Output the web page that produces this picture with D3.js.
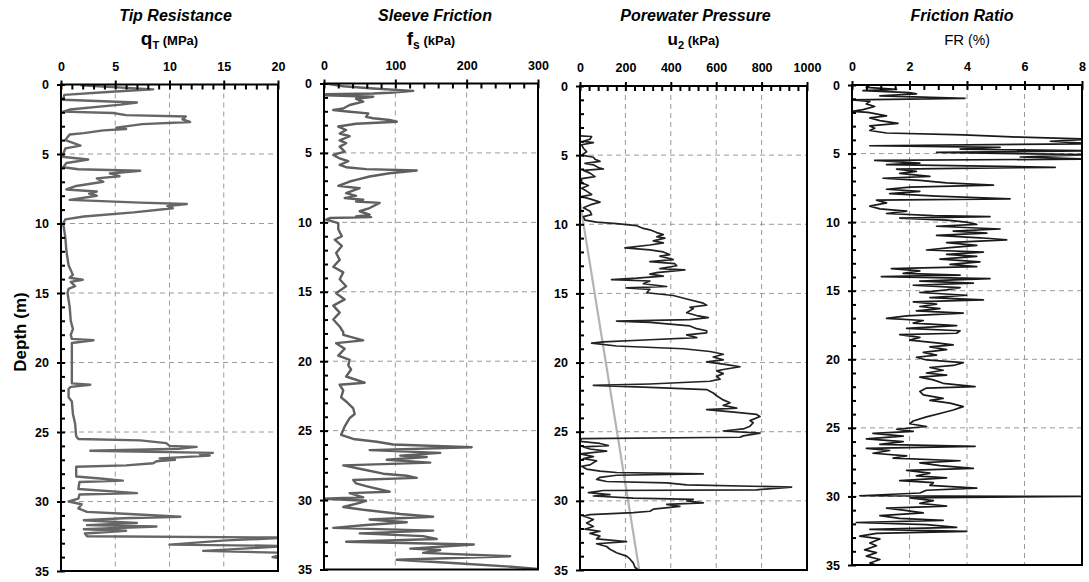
<!DOCTYPE html>
<html>
<head>
<meta charset="utf-8">
<script src="https://cdn.jsdelivr.net/npm/d3@7"></script>
<style>
    body { margin: 0; background: #fff; }
    svg text { font-family: "Liberation Sans", Arial, sans-serif; font-weight: bold; fill: #000; }
</style>
</head>
<body>
<div id="chart"></div>
<script>

// ---- data, every row is [depth (m), value] ----
const depthTicks = [0, 5, 10, 15, 20, 25, 30, 35];

const qtTicks = [0, 5, 10, 15, 20];
const qtData = [
    [0.05, 1.8], [0.35, 8.5], [0.5, 5.0], [0.75, 0.3], [1.1, 0.2], [1.3, 7.0], [1.45, 5.5], [1.8, 0.8], [1.95, 0.2],
    [2.05, 4.8], [2.2, 6.0], [2.3, 11.5], [2.5, 11.2], [2.7, 11.9], [2.85, 7.5], [3.1, 5.1], [3.2, 6.0], [3.3, 3.9],
    [3.5, 2.1], [3.6, 0.8], [4.0, 0.4], [4.4, 1.8], [4.6, 0.4], [5.0, 0.2], [5.2, 0.1], [5.4, 2.5], [5.65, 0.5],
    [5.95, 0.2], [6.1, 1.6], [6.2, 7.3], [6.4, 4.5], [6.6, 5.4], [6.75, 3.3], [7.0, 3.9], [7.3, 1.4], [7.55, 0.5],
    [7.7, 3.3], [7.85, 2.6], [8.0, 3.3], [8.3, 0.8], [8.5, 7.3], [8.6, 11.6], [8.75, 9.8], [8.9, 10.3], [9.2, 6.7],
    [9.5, 2.1], [9.7, 0.4], [10.0, 0.2], [11.0, 0.4], [12.0, 0.5], [13.0, 0.7], [13.7, 1.1], [13.9, 0.8], [14.05, 2.0],
    [14.2, 0.9], [14.5, 1.3], [14.7, 0.7], [15.0, 0.6], [16.0, 0.8], [17.0, 0.9], [17.6, 1.1], [18.0, 0.9], [18.3, 1.0],
    [18.4, 3.0], [18.6, 1.0], [20.0, 1.0], [21.5, 1.0], [21.6, 2.7], [21.75, 0.9], [21.9, 0.7], [22.5, 0.7], [22.8, 1.0],
    [23.7, 1.1], [24.4, 1.3], [25.3, 1.4], [25.5, 1.6], [25.6, 7.3], [25.8, 9.7], [26.0, 10.0], [26.07, 12.5], [26.2, 11.0],
    [26.35, 2.7], [26.5, 14.0], [26.6, 12.8], [26.7, 13.7], [26.9, 9.1], [27.0, 10.5], [27.1, 8.8], [27.25, 8.5],
    [27.4, 6.0], [27.5, 1.4], [28.2, 1.4], [28.35, 3.6], [28.5, 5.7], [28.6, 1.7], [29.1, 1.6], [29.4, 7.0], [29.5, 1.7],
    [29.8, 1.6], [30.0, 0.7], [30.2, 1.9], [30.5, 1.6], [30.75, 2.4], [30.9, 6.3], [31.1, 11.0], [31.2, 5.7], [31.35, 2.1],
    [31.55, 7.0], [31.7, 2.4], [31.8, 8.8], [32.0, 2.1], [32.1, 6.0], [32.3, 2.2], [32.5, 2.4], [32.6, 21], [32.8, 15.2],
    [33.1, 10.0], [33.2, 21], [33.55, 13.1], [33.7, 21], [34.0, 19.5], [34.2, 21], [35, 21]
];

const fsTicks = [0, 100, 200, 300];
const fsData = [
    [0.0, 3], [0.2, 27], [0.36, 69], [0.53, 125], [0.67, 92], [0.72, 69], [0.77, 3], [0.85, 3], [0.95, 69], [1.1, 45],
    [1.3, 55], [1.55, 36], [1.8, 27], [1.91, 13], [2.03, 36], [2.15, 62], [2.4, 59], [2.5, 69], [2.63, 92], [2.75, 102],
    [2.9, 45], [3.1, 20], [3.35, 31], [3.6, 22], [3.8, 36], [4.1, 22], [4.3, 31], [4.55, 22], [4.9, 29], [5.14, 13],
    [5.4, 22], [5.6, 34], [5.86, 22], [6.03, 31], [6.17, 59], [6.27, 130], [6.46, 92], [6.7, 64], [6.94, 45], [7.06, 36],
    [7.37, 20], [7.54, 50], [7.9, 31], [8.09, 45], [8.25, 29], [8.37, 55], [8.5, 45], [8.6, 78], [8.97, 64], [9.2, 50],
    [9.45, 64], [9.57, 45], [9.62, 66], [9.69, 8], [9.8, 3], [10.05, 20], [10.5, 20], [11.0, 25], [11.25, 15], [11.7, 25],
    [12.2, 17], [12.7, 22], [13.2, 13], [13.6, 27], [14.1, 22], [14.6, 31], [15.1, 17], [15.55, 29], [16.0, 13],
    [16.5, 22], [17.0, 13], [17.5, 22], [17.9, 27], [18.1, 27], [18.5, 55], [18.7, 17], [19.1, 29], [19.6, 20],
    [19.9, 36], [20.3, 34], [20.6, 38], [21.1, 31], [21.55, 57], [21.7, 22], [22.1, 27], [22.6, 24], [22.9, 31],
    [23.4, 41], [23.8, 43], [24.1, 36], [24.7, 29], [25.3, 24], [25.6, 41], [25.8, 74], [26.0, 97], [26.2, 207],
    [26.4, 64], [26.6, 163], [26.8, 107], [26.9, 144], [27.1, 88], [27.3, 149], [27.5, 27], [27.8, 55], [28.1, 83],
    [28.25, 116], [28.4, 130], [28.55, 41], [28.8, 45], [29.0, 59], [29.4, 92], [29.5, 36], [29.8, 55], [29.9, 0],
    [30.05, 59], [30.2, 50], [30.5, 27], [30.7, 55], [31.0, 107], [31.2, 153], [31.4, 64], [31.6, 116], [31.8, 59],
    [32.0, 13], [32.2, 153], [32.4, 50], [32.6, 139], [32.8, 158], [33.0, 31], [33.2, 210], [33.5, 121], [33.6, 163],
    [33.8, 139], [34.05, 261], [34.3, 102], [34.55, 186], [34.8, 262], [35.0, 310]
];

const u2Ticks = [0, 200, 400, 600, 800, 1000];
const u2Data = [
    [3.6, 0], [3.65, 51], [3.85, 44], [4.0, 15], [4.1, 59], [4.25, 7], [4.5, 15], [4.75, 29], [5.0, 7], [5.15, 59],
    [5.3, 66], [5.45, 88], [5.6, 22], [5.7, 59], [5.9, 81], [6.0, 103], [6.1, 15], [6.3, 44], [6.55, 66], [6.7, 7],
    [7.0, 7], [7.2, 37], [7.4, 7], [7.6, 29], [7.85, 51], [8.0, 7], [8.2, 51], [8.4, 88], [8.6, 44], [8.8, 15],
    [9.05, 44], [9.3, 51], [9.45, 15], [9.7, 22], [9.85, 73], [9.95, 161], [10.1, 250], [10.3, 279], [10.4, 308],
    [10.6, 338], [10.75, 367], [10.9, 338], [11.0, 374], [11.2, 323], [11.35, 367], [11.5, 308], [11.7, 198],
    [11.85, 308], [12.0, 367], [12.2, 396], [12.3, 352], [12.55, 411], [12.7, 308], [12.85, 418], [13.0, 426],
    [13.2, 352], [13.3, 462], [13.5, 338], [13.6, 308], [13.75, 367], [13.9, 250], [14.0, 139], [14.1, 308],
    [14.3, 279], [14.5, 382], [14.6, 205], [14.7, 308], [14.95, 294], [15.15, 411], [15.4, 470], [15.7, 543],
    [15.85, 558], [16.0, 484], [16.1, 499], [16.4, 470], [16.6, 514], [16.75, 565], [16.9, 484], [17.0, 161],
    [17.1, 308], [17.35, 484], [17.55, 514], [17.7, 558], [17.85, 558], [18.0, 470], [18.2, 514], [18.35, 308],
    [18.5, 103], [18.6, 51], [18.8, 161], [19.0, 455], [19.2, 573], [19.4, 631], [19.6, 587], [19.8, 631], [19.95, 558],
    [20.15, 646], [20.3, 705], [20.5, 631], [20.6, 602], [20.8, 631], [21.0, 602], [21.2, 617], [21.35, 573],
    [21.55, 308], [21.65, 59], [21.8, 308], [21.95, 558], [22.2, 587], [22.4, 602], [22.7, 631], [22.9, 661],
    [23.1, 631], [23.3, 690], [23.4, 558], [23.6, 690], [23.75, 778], [23.9, 793], [24.2, 749], [24.35, 763],
    [24.6, 749], [24.8, 719], [24.95, 631], [25.1, 793], [25.3, 719], [25.4, 705], [25.5, 7], [25.7, 0], [25.85, 88],
    [26.0, 125], [26.1, 15], [26.25, 44], [26.4, 117], [26.6, 0], [26.8, 59], [26.95, 15], [27.1, 73], [27.4, 44],
    [27.5, 7], [27.7, 29], [27.85, 88], [27.95, 161], [28.05, 543], [28.15, 161], [28.3, 88], [28.45, 73], [28.6, 117],
    [28.7, 382], [28.85, 470], [29.0, 932], [29.2, 778], [29.25, 103], [29.4, 37], [29.55, 132], [29.65, 59],
    [29.8, 235], [29.9, 499], [30.0, 470], [30.15, 543], [30.25, 382], [30.4, 440], [30.6, 323], [30.75, 308],
    [30.85, 235], [31.0, 44], [31.1, 15], [31.35, 59], [31.6, 29], [31.85, 59], [32.05, 22], [32.2, 88], [32.35, 44],
    [32.55, 88], [32.75, 73], [32.95, 205], [33.1, 73], [33.3, 117], [33.5, 132], [33.75, 161], [34.0, 205],
    [34.2, 220], [34.5, 235], [34.8, 242], [35.0, 257]
];
// hydrostatic pressure line
const u0Data = [[8.4, 0], [35.0, 261]];

const frTicks = [0, 2, 4, 6, 8];
const frData = [
    [0.0, 0.62], [0.17, 0.5], [0.32, 1.55], [0.41, 0.38], [0.56, 2.0], [0.65, 2.24], [0.8, 0.97], [0.97, 3.93],
    [1.09, 0], [1.2, 0.62], [1.38, 0.5], [1.57, 0.79], [1.8, 0.38], [1.93, 0], [2.0, 0.56], [2.25, 1.2], [2.4, 0.62],
    [2.6, 0.97], [2.8, 1.6], [2.98, 0.62], [3.15, 0.79], [3.32, 0.62], [3.5, 1.2], [3.63, 3.87], [3.8, 5.85],
    [3.95, 8.3], [4.1, 6.9], [4.28, 8.3], [4.43, 0.62], [4.55, 5.15], [4.67, 3.76], [4.8, 8.3], [4.91, 2.94],
    [5.08, 8.3], [5.25, 5.85], [5.4, 8.3], [5.5, 0.79], [5.7, 2.36], [5.8, 1.2], [6.0, 7.07], [6.13, 1.55], [6.3, 2.24],
    [6.45, 1.66], [6.66, 2.71], [6.8, 1.08], [6.95, 2.36], [7.14, 3.29], [7.3, 4.92], [7.45, 2.01], [7.6, 1.2],
    [7.75, 2.36], [7.92, 1.31], [8.1, 2.94], [8.3, 5.5], [8.4, 0.85], [8.6, 1.2], [8.83, 0.62], [9.03, 0.97], [9.2, 1.9],
    [9.37, 1.2], [9.52, 2.83], [9.6, 4.8], [9.7, 1.66], [9.85, 3.29], [10.0, 3.99], [10.17, 4.34], [10.3, 2.94],
    [10.5, 5.15], [10.65, 3.52], [10.8, 4.69], [10.97, 2.94], [11.14, 4.45], [11.3, 5.38], [11.5, 3.29], [11.7, 4.34],
    [11.86, 3.41], [12.03, 2.59], [12.18, 4.57], [12.35, 3.29], [12.5, 4.34], [12.7, 3.06], [12.9, 4.45], [13.08, 3.41],
    [13.25, 4.34], [13.39, 1.37], [13.56, 2.36], [13.73, 1.78], [13.87, 3.76], [13.97, 1.02], [14.12, 4.8], [14.3, 2.36],
    [14.45, 4.22], [14.6, 2.13], [14.77, 3.76], [14.94, 3.29], [15.13, 2.36], [15.33, 3.99], [15.5, 2.71], [15.67, 4.57],
    [15.81, 2.13], [15.98, 2.94], [16.15, 2.36], [16.3, 3.06], [16.47, 2.24], [16.63, 3.87], [16.83, 1.9], [17.02, 1.2],
    [17.17, 2.48], [17.36, 2.13], [17.55, 3.64], [17.75, 1.9], [17.92, 3.76], [18.1, 3.64], [18.2, 1.66], [18.4, 2.36],
    [18.6, 2.01], [18.8, 2.94], [18.95, 3.52], [19.1, 2.71], [19.3, 3.29], [19.5, 2.48], [19.7, 2.94], [19.85, 2.24],
    [20.05, 2.59], [20.25, 3.87], [20.45, 3.52], [20.6, 2.71], [20.8, 3.17], [21.0, 2.59], [21.15, 3.29], [21.3, 2.36],
    [21.5, 2.83], [21.75, 3.17], [22.0, 4.28], [22.1, 2.59], [22.35, 2.36], [22.6, 2.48], [22.85, 3.17], [23.0, 2.71],
    [23.2, 3.41], [23.45, 3.87], [23.7, 3.52], [23.95, 3.06], [24.2, 2.59], [24.5, 2.13], [24.7, 2.01], [24.9, 2.59],
    [25.1, 1.55], [25.25, 2.13], [25.4, 0.73], [25.6, 1.78], [25.8, 0.5], [26.0, 1.78], [26.2, 0.97], [26.35, 4.28],
    [26.5, 0.5], [26.65, 1.31], [26.85, 0.73], [27.05, 1.9], [27.2, 1.43], [27.4, 3.76], [27.55, 2.36], [27.75, 3.06],
    [27.95, 4.22], [28.1, 1.9], [28.3, 2.71], [28.5, 2.24], [28.65, 3.29], [28.85, 1.66], [29.0, 2.83], [29.2, 2.71],
    [29.4, 4.34], [29.55, 2.59], [29.75, 2.36], [29.95, 0.27], [30.0, 7.94], [30.1, 2.01], [30.3, 2.83], [30.5, 2.36],
    [30.7, 3.29], [30.85, 1.2], [31.0, 1.78], [31.2, 2.48], [31.4, 0.97], [31.6, 1.66], [31.75, 3.17], [31.9, 0.15],
    [32.05, 2.59], [32.25, 3.64], [32.4, 0.62], [32.55, 3.99], [32.7, 0.85], [32.9, 0.27], [33.1, 0.97], [33.4, 0.62],
    [33.6, 0.85], [33.9, 0.44], [34.1, 0.85], [34.35, 0.5], [34.6, 0.97], [34.85, 0.62], [35.0, 0.85]
];


class CptPanel {

    constructor(svg, config) {
        this.svg = svg;
        this.config = config;
        this.initVis();
    }

    initVis() {
        let vis = this;
        let c = vis.config;

        vis.g = vis.svg.append("g").attr("class", "panel " + c.id);

        vis.x = d3.scaleLinear().domain([0, c.ticks[c.ticks.length - 1]]).range([c.left, c.right]);
        vis.y = d3.scaleLinear().domain([0, 35]).range([c.top, c.bottom]);

        // clip
        vis.g.append("clipPath").attr("id", "clip-" + c.id)
            .append("rect")
            .attr("x", c.left).attr("y", c.top)
            .attr("width", c.right - c.left).attr("height", c.bottom - c.top);

        // dashed grid
        vis.g.append("g").selectAll("line.vgrid")
            .data(c.ticks.slice(1, -1))
            .enter().append("line")
            .attr("x1", d => vis.x(d)).attr("x2", d => vis.x(d))
            .attr("y1", c.top).attr("y2", c.bottom)
            .attr("stroke", "#9a9a9a").attr("stroke-dasharray", "5,4");

        vis.g.append("g").selectAll("line.hgrid")
            .data(depthTicks.slice(1, -1))
            .enter().append("line")
            .attr("x1", c.left).attr("x2", c.right)
            .attr("y1", d => vis.y(d)).attr("y2", d => vis.y(d))
            .attr("stroke", "#9a9a9a").attr("stroke-dasharray", "5,4");

        vis.line = d3.line()
            .x(d => vis.x(d[1]))
            .y(d => vis.y(d[0]));

        vis.traces = vis.g.append("g").attr("clip-path", "url(#clip-" + c.id + ")");

        // frame
        vis.g.append("rect")
            .attr("x", c.left).attr("y", c.top)
            .attr("width", c.right - c.left).attr("height", c.bottom - c.top)
            .attr("fill", "none").attr("stroke", "#000").attr("stroke-width", 2);

        // top axis: labels + major ticks out, then minor + major ticks in
        let xMinor = d3.range(0, c.ticks[c.ticks.length - 1] + c.minorStep / 2, c.minorStep);

        vis.g.append("g")
            .attr("transform", `translate(0, ${c.top})`)
            .call(d3.axisTop(vis.x).tickValues(c.ticks).tickSize(4).tickPadding(10).tickFormat(d3.format("d")))
            .call(g => g.select(".domain").remove())
            .call(g => g.selectAll("line").attr("stroke-width", 2))
            .call(g => g.selectAll("text").attr("font-size", 12.5));

        vis.g.append("g")
            .attr("transform", `translate(0, ${c.top})`)
            .call(d3.axisBottom(vis.x).tickValues(xMinor).tickSize(5).tickFormat(""))
            .call(g => g.select(".domain").remove())
            .call(g => g.selectAll("line").attr("stroke-width", 2));

        // left axis
        vis.g.append("g")
            .attr("transform", `translate(${c.left}, 0)`)
            .call(d3.axisLeft(vis.y).tickValues(depthTicks).tickSize(4).tickPadding(8))
            .call(g => g.select(".domain").remove())
            .call(g => g.selectAll("line").attr("stroke-width", 2))
            .call(g => g.selectAll("text").attr("font-size", 12.5));

        vis.g.append("g")
            .attr("transform", `translate(${c.left}, 0)`)
            .call(d3.axisRight(vis.y).tickValues(d3.range(0, 36, 1)).tickSize(4).tickFormat(""))
            .call(g => g.select(".domain").remove())
            .call(g => g.selectAll("line").attr("stroke-width", 2));

        // titles
        let cx = (c.left + c.right) / 2;
        vis.g.append("text")
            .attr("x", cx + c.titleShift).attr("y", 21)
            .attr("text-anchor", "middle")
            .attr("font-size", 16)
            .attr("font-style", "italic")
            .text(c.title);

        let unit = vis.g.append("text")
            .attr("x", cx).attr("y", 45)
            .attr("text-anchor", "middle");
        c.unit.forEach(u => {
            unit.append("tspan")
                .attr("font-size", u.size)
                .attr("dy", u.dy || 0)
                .attr("font-weight", u.weight || "bold")
                .text(u.t);
        });

        this.updateVis();
    }

    updateVis() {
        let vis = this;
        let c = vis.config;

        vis.traces.selectAll("path.trace")
            .data(c.series)
            .enter().append("path")
            .attr("class", "trace")
            .attr("d", d => vis.line(d.data))
            .attr("fill", "none")
            .attr("stroke", d => d.color)
            .attr("stroke-width", d => d.width)
            .attr("stroke-linejoin", "round");
    }
}


let svg = d3.select("#chart").append("svg")
    .attr("width", 1089)
    .attr("height", 582);

new CptPanel(svg, {
    id: "qt", left: 61, right: 278, top: 84.5, bottom: 571,
    ticks: qtTicks, minorStep: 1, title: "Tip Resistance", titleShift: 6,
    unit: [{t: "q", size: 19}, {t: "T", size: 11, dy: 4}, {t: " (MPa)", size: 13, dy: -4}],
    series: [{data: qtData, color: "#666", width: 2.4}]
});

new CptPanel(svg, {
    id: "fs", left: 324, right: 538, top: 83.5, bottom: 569.5,
    ticks: fsTicks, minorStep: 20, title: "Sleeve Friction", titleShift: 4,
    unit: [{t: "f", size: 19}, {t: "s", size: 12, dy: 4}, {t: " (kPa)", size: 13, dy: -4}],
    series: [{data: fsData, color: "#5f5f5f", width: 2.4}]
});

new CptPanel(svg, {
    id: "u2", left: 580, right: 807, top: 86, bottom: 570,
    ticks: u2Ticks, minorStep: 40, title: "Porewater Pressure", titleShift: 2,
    unit: [{t: "u", size: 17}, {t: "2", size: 11, dy: 4}, {t: " (kPa)", size: 13, dy: -4}],
    series: [{data: u0Data, color: "#b4b4b4", width: 2.2}, {data: u2Data, color: "#222", width: 1.7}]
});

new CptPanel(svg, {
    id: "fr", left: 852, right: 1082, top: 85, bottom: 565,
    ticks: frTicks, minorStep: 0.5, title: "Friction Ratio", titleShift: -5,
    unit: [{t: "FR", size: 15, weight: "normal"}, {t: " (%)", size: 14, weight: "normal"}],
    series: [{data: frData, color: "#1a1a1a", width: 1.7}]
});

// y axis title
svg.append("text")
    .attr("transform", "translate(26, 332) rotate(-90)")
    .attr("text-anchor", "middle")
    .attr("font-size", 17)
    .text("Depth (m)");

</script>
</body>
</html>
